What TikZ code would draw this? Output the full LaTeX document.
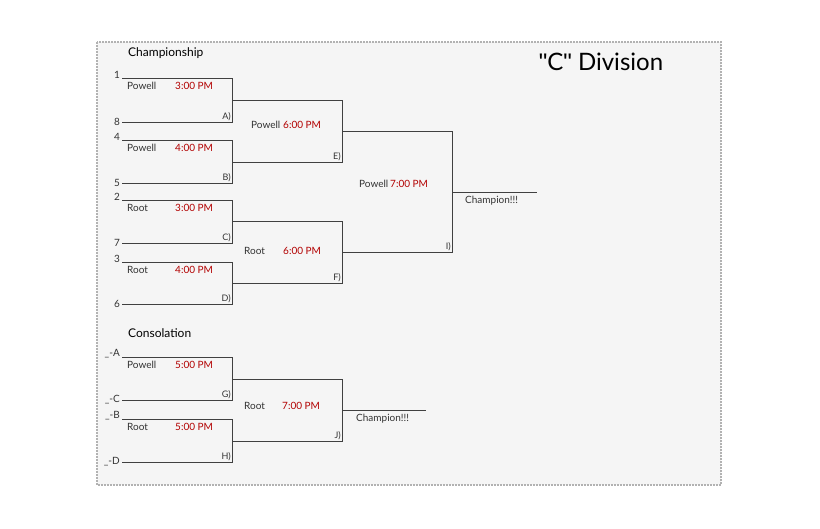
\documentclass[tikz,border=0pt]{standalone}
\usepackage{fontspec}
\setmainfont{Lato}
\newfontfamily\qfont{Liberation Sans}
\usetikzlibrary{calc}
\begin{document}
\begin{tikzpicture}[x=1pt,y=-1pt,
  br/.style={draw=black!75,line width=0.8pt},
  lab/.style={font=\fontsize{10}{10}\selectfont,text=black!80,inner sep=0pt},
  tm/.style={font=\fontsize{10}{10}\selectfont,text=red!70!black,inner sep=0pt},
  sd/.style={font=\fontsize{10}{10}\selectfont,text=black!80,inner sep=0pt,anchor=east},
  cd/.style={font=\fontsize{9}{9}\selectfont,text=black!80,inner sep=0pt,anchor=south east}]
\useasboundingbox (0,0) rectangle (820,528);
\fill[white] (0,0) rectangle (820,528);
\draw[fill=black!4,draw=black!30,line width=1.2pt,dash pattern=on 2pt off 1pt] (97,42) rectangle (721,485);
\node[font=\fontsize{12}{12}\selectfont,inner sep=0pt,anchor=west] (t1) at (128,53) {Championship};
\node[font=\fontsize{24}{24}\selectfont,inner sep=0pt] (t2) at (601,62) {{\qfont\symbol{34}}C{\qfont\symbol{34}} Division};
\node[font=\fontsize{12}{12}\selectfont,inner sep=0pt,anchor=west] (t3) at (128,333) {Consolation};
% first round
\foreach \n/\a/\b/\sa/\sb/\loc/\tt/\c in {A/78/122/1/8/Powell/3:00 PM/A),B/140/183/4/5/Powell/4:00 PM/B),C/200/243/2/7/Root/3:00 PM/C),D/262/304/3/6/Root/4:00 PM/D),G/357/400/\_-A/\_-C/Powell/5:00 PM/G),H/419/462/\_-B/\_-D/Root/5:00 PM/H)}{
  \coordinate (\n1) at (122,\a); \coordinate (\n2) at (232,\a);
  \coordinate (\n3) at (232,\b); \coordinate (\n4) at (122,\b);
  \draw[br] (\n1) -- (\n2) -- (\n3) -- (\n4);
  \node[sd] (s\n a) at (120,\a-3) {\sa};
  \node[sd] (s\n b) at (120,\b) {\sb};
  \node[lab,anchor=west] (l\n) at (127,\a+8) {\loc};
  \node[tm,anchor=west] (m\n) at (175,\a+8) {\tt};
  \node[cd] (c\n) at (231,\b-1) {\c};
}
% second round
\foreach \n/\a/\b in {E/100/162,F/221/283,J/379/441}{
  \coordinate (\n1) at (232,\a); \coordinate (\n2) at (342,\a);
  \coordinate (\n3) at (342,\b); \coordinate (\n4) at (232,\b);
}
\coordinate (I1) at (342,131); \coordinate (I2) at (452,131);
\coordinate (I3) at (452,252); \coordinate (I4) at (342,252);
\foreach \n in {E,F,J,I} \draw[br] (\n1) -- (\n2) -- (\n3) -- (\n4);
\node[cd] (cE) at (341,161) {E)};
\node[cd] (cF) at (341,282) {F)};
\node[cd] (cJ) at (341,440) {J)};
\node[cd] (cI) at (451,251) {I)};
\node[lab,anchor=west] (lE) at (251,125) {Powell};
\node[tm,anchor=west] (mE) at (283,125) {6:00 PM};
\node[lab,anchor=west] (lF) at (244,251) {Root};
\node[tm,anchor=west] (mF) at (283,251) {6:00 PM};
\node[lab,anchor=west] (lJ) at (244,406) {Root};
\node[tm,anchor=west] (mJ) at (282,406) {7:00 PM};
\node[lab,anchor=west] (lI) at (359,184) {Powell};
\node[tm,anchor=west] (mI) at (390,184) {7:00 PM};
\coordinate (ch0) at (452,192);
\coordinate (ch1) at (537,192);
\draw[br] (ch0) -- (ch1);
\coordinate (ch3) at (342,410);
\coordinate (ch2) at (426,410);
\draw[br] (ch3) -- (ch2);
\node[lab,anchor=west] (w1) at (465,201) {Champion!!!};
\node[lab,anchor=west] (w2) at (356,419) {Champion!!!};
\end{tikzpicture}
\end{document}
